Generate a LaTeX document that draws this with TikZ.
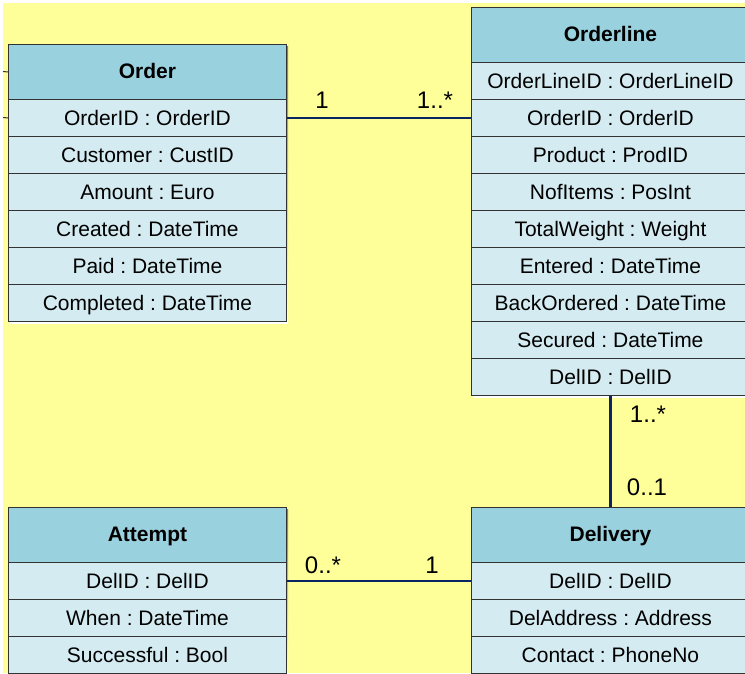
\documentclass[tikz,border=0pt]{standalone}
\usepackage{fontspec}
\setmainfont{Liberation Sans}
\frenchspacing
\definecolor{bg}{HTML}{FFFF99}
\definecolor{hdr}{HTML}{99D1DF}
\definecolor{rowc}{HTML}{D3EBF1}
\definecolor{edge}{HTML}{333333}
\definecolor{conn}{HTML}{0A2464}
\definecolor{shade}{HTML}{666666}
\begin{document}
\begin{tikzpicture}[x=1pt,y=-1pt,
  cls/.style={draw=edge, line width=0.9pt, minimum width=278pt, anchor=north west, inner sep=0pt},
  hdrbox/.style={cls, fill=hdr, minimum height=55pt, text height=15.5pt, text depth=2.5pt, font=\fontsize{21}{24}\selectfont\bfseries},
  rowbox/.style={cls, fill=rowc, minimum height=37pt, text height=16pt, text depth=1pt, font=\fontsize{21}{24}\selectfont},
  mult/.style={anchor=base, font=\fontsize{24}{28}\selectfont, inner sep=0pt},
  link/.style={draw=conn, line width=2.2pt},
  stub/.style={draw=edge, line width=1pt}]
\useasboundingbox (0,0) rectangle (745,673);
\clip (0,0) rectangle (745,673);
\fill[white] (0,0) rectangle (745,673);
\fill[bg] (3,3) rectangle (745,673);
% shadows
\fill[shade] (10,46) rectangle (288,323);
\fill[shade] (473,9) rectangle (751,397);
\fill[shade] (10,509) rectangle (288,680);
\fill[shade] (473,509) rectangle (751,680);
% Order
\node[hdrbox] (order) at (8,44) {Order};
\node[rowbox] (o1) at (8,99) {OrderID : OrderID};
\node[rowbox] (o2) at (8,136) {Customer : CustID};
\node[rowbox] (o3) at (8,173) {Amount : Euro};
\node[rowbox] (o4) at (8,210) {Created : DateTime};
\node[rowbox] (o5) at (8,247) {Paid : DateTime};
\node[rowbox] (o6) at (8,284) {Completed : DateTime};
% Orderline
\node[hdrbox] (ol) at (471,7) {Orderline};
\node[rowbox] (l1) at (471,62) {OrderLineID : OrderLineID};
\node[rowbox] (l2) at (471,99) {OrderID : OrderID};
\node[rowbox] (l3) at (471,136) {Product : ProdID};
\node[rowbox] (l4) at (471,173) {NofItems : PosInt};
\node[rowbox] (l5) at (471,210) {TotalWeight : Weight};
\node[rowbox] (l6) at (471,247) {Entered : DateTime};
\node[rowbox] (l7) at (471,284) {BackOrdered : DateTime};
\node[rowbox] (l8) at (471,321) {Secured : DateTime};
\node[rowbox] (l9) at (471,358) {DelID : DelID};
% Attempt
\node[hdrbox] (att) at (8,507) {Attempt};
\node[rowbox] (a1) at (8,562) {DelID : DelID};
\node[rowbox] (a2) at (8,599) {When : DateTime};
\node[rowbox] (a3) at (8,636) {Successful : Bool};
% Delivery
\node[hdrbox] (del) at (471,507) {Delivery};
\node[rowbox] (d1) at (471,562) {DelID : DelID};
\node[rowbox] (d2) at (471,599) {DelAddress : Address};
\node[rowbox] (d3) at (471,636) {Contact : PhoneNo};
% stubs at the left edge
\coordinate (s1) at (3,71.5);
\coordinate (s2) at (3,117.5);
\draw[stub] (s1) -- (order.west);
\draw[stub] (s2) -- (o1.west);
% connectors
\draw[link] (o1.east) -- (l2.west);
\draw[link] (l9.south) -- (del.north);
\draw[link] (a1.east) -- (d1.west);
% multiplicities
\node[mult] (m1) at (322,108) {1};
\node[mult] (m2) at (435,108) {1..*};
\node[mult] (m3) at (648,422) {1..*};
\node[mult] (m4) at (647,495) {0..1};
\node[mult] (m5) at (323,573) {0..*};
\node[mult] (m6) at (432,573) {1};
\end{tikzpicture}
\end{document}
